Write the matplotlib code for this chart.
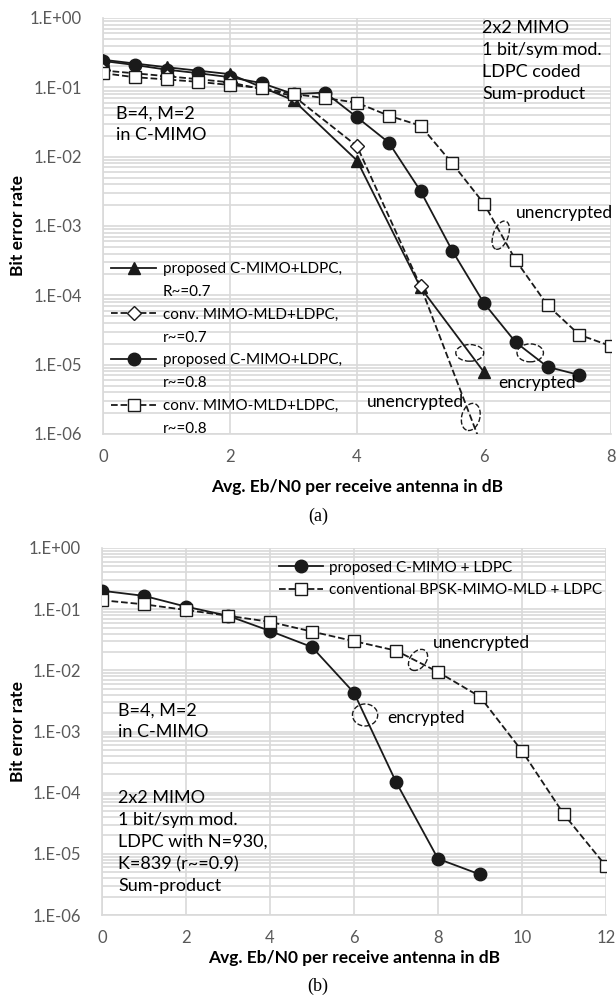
import numpy as np
import matplotlib
matplotlib.use("Agg")
import matplotlib.pyplot as plt
from matplotlib.lines import Line2D
from matplotlib.patches import Ellipse
from matplotlib.ticker import LogLocator, FuncFormatter, NullFormatter

# --- data, panel (a) ---
snr_a1 = [0, 1, 2, 3, 4, 5, 6]
ber_tri = [0.25, 0.195, 0.155, 0.065, 0.0088, 1.3e-4, 7.8e-6]
ber_dia = [0.175, 0.145, 0.118, 0.075, 0.0142, 1.36e-4, 5.5e-7]
snr_a2 = [0, 0.5, 1, 1.5, 2, 2.5, 3, 3.5, 4, 4.5, 5, 5.5, 6, 6.5, 7, 7.5]
ber_circ_a = [0.24, 0.21, 0.18, 0.16, 0.14, 0.115, 0.08, 0.084, 0.037, 0.016,
              0.0032, 4.4e-4, 7.7e-5, 2.1e-5, 9.3e-6, 7.1e-6]
snr_a3 = [0, 0.5, 1, 1.5, 2, 2.5, 3, 3.5, 4, 4.5, 5, 5.5, 6, 6.5, 7, 7.5, 8]
ber_sq_a = [0.16, 0.14, 0.13, 0.12, 0.108, 0.098, 0.08, 0.07, 0.06, 0.039,
            0.028, 0.008, 0.0021, 3.2e-4, 7.2e-5, 2.7e-5, 1.85e-5]

# --- data, panel (b) ---
snr_b1 = [0, 1, 2, 3, 4, 5, 6, 7, 8, 9]
ber_circ_b = [0.2, 0.165, 0.11, 0.078, 0.044, 0.024, 0.0043, 1.5e-4, 8.3e-6, 4.6e-6]
snr_b2 = [0, 1, 2, 3, 4, 5, 6, 7, 8, 9, 10, 11, 12]
ber_sq_b = [0.14, 0.12, 0.097, 0.078, 0.062, 0.043, 0.030, 0.021, 0.0094,
            0.0037, 4.8e-4, 4.4e-5, 6.3e-6]

plt.rcParams["font.family"] = ["Lato", "DejaVu Sans"]
GRID = "#d9d9d9"
TICK = "#595959"
FS_TICK = 12
FS_LEG = 11
FS_NOTE = 13
FS_SMALL = 12.5

fig = plt.figure(figsize=(6.16, 9.96), dpi=100)
# axes boxes in pixels: (left, top, right, bottom)
box1 = (103, 18, 611, 434)
box2 = (102, 548, 606, 915)
ax1 = fig.add_axes([box1[0] / 616, 1 - box1[3] / 996, (box1[2] - box1[0]) / 616, (box1[3] - box1[1]) / 996])
ax2 = fig.add_axes([box2[0] / 616, 1 - box2[3] / 996, (box2[2] - box2[0]) / 616, (box2[3] - box2[1]) / 996])


def style(ax, xmax, box, xlab_y):
    ax.set_yscale("log")
    ax.set_ylim(1e-6, 1)
    ax.set_xlim(0, xmax)
    ax.set_xticks(np.arange(0, xmax + 1, 2))
    ax.yaxis.set_major_locator(LogLocator(base=10, numticks=10))
    ax.yaxis.set_minor_locator(LogLocator(base=10, subs=np.arange(2, 10), numticks=20))
    ax.yaxis.set_minor_formatter(NullFormatter())
    ax.yaxis.set_major_formatter(FuncFormatter(lambda v, p: f"1.E{int(round(np.log10(v))):+03d}"))
    ax.grid(True, which="both", axis="y", color=GRID, lw=1.2)
    ax.grid(True, which="major", axis="x", color=GRID, lw=1.2)
    for s in ax.spines.values():
        s.set_color(GRID)
        s.set_linewidth(1.2)
    ax.spines["top"].set_visible(False)
    ax.spines["right"].set_visible(False)
    ax.tick_params(which="both", length=0, labelsize=FS_TICK, labelcolor=TICK)
    ax.tick_params(axis="y", pad=15)
    ax.tick_params(axis="x", pad=11)
    ax.set_axisbelow(True)
    w = box[2] - box[0]
    h = box[3] - box[1]
    # ylabel anchor is the right edge of the rotated text
    ax.set_ylabel("Bit error rate", fontsize=12.5, fontweight="bold")
    ax.yaxis.set_label_coords(-(box[0] - 26) / w, 0.5)
    ax.set_xlabel("Avg. Eb/N0 per receive antenna in dB", fontsize=12.5, fontweight="bold")
    ax.xaxis.set_label_coords(0.5, -(xlab_y - box[3]) / h)
    ax.xaxis.label.set_va("center")


mk = dict(color="#1a1a1a", lw=1.3, markersize=9, clip_on=True)

# panel (a)
style(ax1, 8, box1, 487)
ax1.plot(snr_a2, ber_circ_a, "-", marker="o", mfc="#1a1a1a", zorder=3, **mk)
ax1.plot(snr_a1, ber_tri, "-", marker="^", mfc="#1a1a1a", zorder=4, **mk)
ax1.plot(snr_a1, ber_dia, "--", marker="D", mfc="white", zorder=4, **dict(mk, markersize=7))
ax1.plot(snr_a3, ber_sq_a, "--", marker="s", mfc="white", zorder=5, **mk)

hand = [
    Line2D([], [], color="#1a1a1a", lw=1.3, marker="^", markersize=9),
    Line2D([], [], color="none"),
    Line2D([], [], color="#1a1a1a", lw=1.3, ls="--", marker="D", mfc="white", markersize=7),
    Line2D([], [], color="none"),
    Line2D([], [], color="#1a1a1a", lw=1.3, marker="o", markersize=9),
    Line2D([], [], color="none"),
    Line2D([], [], color="#1a1a1a", lw=1.3, ls="--", marker="s", mfc="white", markersize=9),
    Line2D([], [], color="none"),
]
labs = ["proposed C-MIMO+LDPC,", "R~=0.7", "conv. MIMO-MLD+LDPC,", "r~=0.7",
        "proposed C-MIMO+LDPC,", "r~=0.8", "conv. MIMO-MLD+LDPC,", "r~=0.8"]
ax1.legend(hand, labs, loc="upper left", bbox_to_anchor=(0.0, 0.432), frameon=False,
           fontsize=FS_LEG, handlelength=3.0, handletextpad=0.4, labelspacing=0.58,
           borderpad=0.2, borderaxespad=0.3)

ax1.text(0.746, 0.995, "2x2 MIMO\n1 bit/sym mod.\nLDPC coded\nSum-product",
         transform=ax1.transAxes, va="top", ha="left", fontsize=FS_NOTE, linespacing=1.45)
ax1.text(0.026, 0.79, "B=4, M=2\nin C-MIMO", transform=ax1.transAxes, va="top",
         ha="left", fontsize=FS_NOTE, linespacing=1.45)
ax1.text(0.813, 0.531, "unencrypted", transform=ax1.transAxes, va="center", fontsize=FS_SMALL)
ax1.text(0.778, 0.123, "encrypted", transform=ax1.transAxes, va="center", fontsize=FS_SMALL)
ax1.text(0.52, 0.077, "unencrypted", transform=ax1.transAxes, va="center", fontsize=FS_SMALL)
for (cx, cy, w, h, a) in [(0.783, 0.478, 0.03, 0.07, -15), (0.722, 0.195, 0.055, 0.04, 0),
                          (0.841, 0.195, 0.052, 0.043, 0), (0.724, 0.041, 0.036, 0.066, -10)]:
    ax1.add_patch(Ellipse((cx, cy), w, h, angle=a, transform=ax1.transAxes, fill=False,
                          ls="--", lw=1.0, ec="#1a1a1a", zorder=6))

# panel (b)
style(ax2, 12, box2, 958)
ax2.plot(snr_b1, ber_circ_b, "-", marker="o", mfc="#1a1a1a", zorder=3, **mk)
ax2.plot(snr_b2, ber_sq_b, "--", marker="s", mfc="white", zorder=5, **mk)
hand2 = [Line2D([], [], color="#1a1a1a", lw=1.3, marker="o", markersize=9),
         Line2D([], [], color="#1a1a1a", lw=1.3, ls="--", marker="s", mfc="white", markersize=9)]
ax2.legend(hand2, ["proposed C-MIMO + LDPC", "conventional BPSK-MIMO-MLD + LDPC"],
           loc="upper left", bbox_to_anchor=(0.33, 0.995), frameon=False, fontsize=FS_LEG,
           handlelength=2.9, handletextpad=0.4, labelspacing=0.55, borderpad=0.2)

ax2.text(0.032, 0.58, "B=4, M=2\nin C-MIMO", transform=ax2.transAxes, va="top",
         ha="left", fontsize=FS_NOTE, linespacing=1.45)
ax2.text(0.032, 0.34, "2x2 MIMO\n1 bit/sym mod.\nLDPC with N=930,\nK=839 (r~=0.9)\nSum-product",
         transform=ax2.transAxes, va="top", ha="left", fontsize=FS_NOTE, linespacing=1.45)
ax2.text(0.657, 0.741, "unencrypted", transform=ax2.transAxes, va="center", fontsize=FS_SMALL)
ax2.text(0.565, 0.537, "encrypted", transform=ax2.transAxes, va="center", fontsize=FS_SMALL)
for (cx, cy, w, h, a) in [(0.627, 0.695, 0.034, 0.06, -20), (0.522, 0.545, 0.05, 0.06, 0)]:
    ax2.add_patch(Ellipse((cx, cy), w, h, angle=a, transform=ax2.transAxes, fill=False,
                          ls="--", lw=1.0, ec="#1a1a1a", zorder=6))

fig.text(318 / 616, 1 - 516 / 996, "(a)", ha="center", va="center", fontsize=13,
         family="Liberation Serif")
fig.text(318 / 616, 1 - 986 / 996, "(b)", ha="center", va="center", fontsize=13,
         family="Liberation Serif")

fig.savefig("out.png", dpi=100)
